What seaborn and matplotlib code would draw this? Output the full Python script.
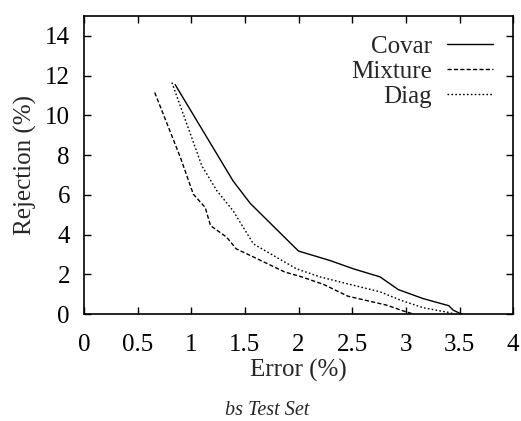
import pandas as pd
import matplotlib
matplotlib.use('Agg')
import matplotlib.pyplot as plt
import seaborn as sns

# ── Data ──────────────────────────────────────────────────────
covar_err = [0.85, 1.39, 1.55, 2.00, 2.29, 2.51, 2.76, 2.93, 3.16, 3.40, 3.44, 3.49, 3.52]
covar_rej = [11.55, 6.70, 5.57, 3.17, 2.70, 2.28, 1.87, 1.23, 0.78, 0.42, 0.20, 0.07, 0.0]

mix_err = [0.66, 0.90, 1.02, 1.07, 1.13, 1.18, 1.33, 1.42, 1.55, 1.87, 2.03, 2.23, 2.46, 2.82, 2.98, 3.07]
mix_rej = [11.15, 7.87, 6.03, 5.73, 5.37, 4.45, 3.87, 3.28, 2.95, 2.12, 1.87, 1.50, 0.90, 0.45, 0.15, 0.0]

diag_err = [0.82, 1.10, 1.24, 1.39, 1.58, 1.98, 2.20, 2.51, 2.76, 2.95, 3.16, 3.41, 3.45]
diag_rej = [11.65, 7.45, 6.20, 5.20, 3.53, 2.28, 1.87, 1.45, 1.12, 0.70, 0.32, 0.07, 0.0]

xticks = [0, 0.5, 1, 1.5, 2, 2.5, 3, 3.5, 4]
xtick_labels = ['0', '0.5', '1', '1.5', '2', '2.5', '3', '3.5', '4']
yticks = [0, 2, 4, 6, 8, 10, 12, 14]

sns.set_style('ticks')
plt.rcParams['font.family'] = ['Liberation Serif', 'DejaVu Serif']

fig = plt.figure(figsize=(5.21, 4.21), dpi=100)
ax = fig.add_axes([0.161, 0.254, 0.824, 0.708])

series = [
    ('Covar', covar_err, covar_rej, '-'),
    ('Mixture', mix_err, mix_rej, (0, (3.0, 1.6))),
    ('Diag', diag_err, diag_rej, (0, (1.2, 1.6))),
]
for name, ex, ry, ls in series:
    df = pd.DataFrame({'err': ex, 'rej': ry})
    sns.lineplot(data=df, x='err', y='rej', sort=False, estimator=None,
                 color='black', lw=1.0, label=name, ax=ax)
    ax.lines[-1].set_linestyle(ls)

ax.set_xlim(0, 4)
ax.set_ylim(0, 15)
ax.set_xticks(xticks)
ax.set_xticklabels(xtick_labels)
ax.set_yticks(yticks)
ax.tick_params(direction='in', top=True, right=True, length=5, width=1,
               labelsize=18, colors='black')
ax.tick_params(axis='x', pad=14.5)
ax.tick_params(axis='y', pad=10)
for s in ax.spines.values():
    s.set_linewidth(1.2)
    s.set_color('black')

ax.set_xlabel('Error (%)', fontsize=18, labelpad=2)
ax.set_ylabel('Rejection (%)', fontsize=18, labelpad=6)

leg = ax.legend(loc='upper right', bbox_to_anchor=(0.953, 0.935),
                frameon=False, markerfirst=False, fontsize=18,
                handlelength=1.85, labelspacing=0.1, borderpad=0,
                borderaxespad=0, handletextpad=0.6)

fig.text(0.512, 0.015, 'bs Test Set', ha='center', va='baseline',
         fontsize=14.5, style='italic')

plt.savefig('out.png', dpi=100)
plt.close()
